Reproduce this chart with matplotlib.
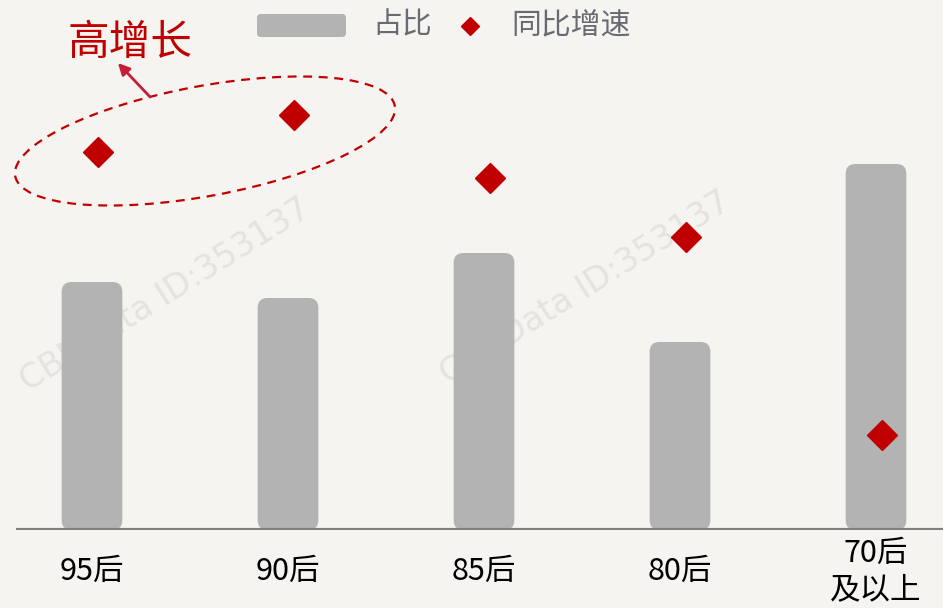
import matplotlib.pyplot as plt
from matplotlib.patches import FancyBboxPatch, Ellipse
import numpy as np

plt.rcParams['font.family'] = ['Noto Sans CJK SC', 'DejaVu Sans']

# data (arbitrary units)
categories = ['95后', '90后', '85后', '80后', '70后\n及以上']
share = [24.8, 23.2, 27.7, 18.8, 36.6]      # 占比
growth = [37.8, 41.5, 35.2, 29.3, 9.5]      # 同比增速

bg_color = '#f5f4f0'
bar_color = '#b3b3b3'
red = '#c00000'

fig = plt.figure(figsize=(9.43, 6.08), dpi=100)
fig.patch.set_facecolor(bg_color)

# background layer for the faint watermark
bg = fig.add_axes([0, 0, 1, 1], zorder=0)
bg.set_xlim(0, 943)
bg.set_ylim(608, 0)
bg.axis('off')
for cx, cy in [(165, 295), (585, 288)]:
    bg.text(cx, cy, 'CBNData ID:353137', rotation=32, fontsize=24, color='#e4e3df',
            ha='center', va='center', family='DejaVu Sans')

# main chart
ax = fig.add_axes([16/943, 78/608, 927/943, 530/608], zorder=1)
ax.patch.set_alpha(0)
x = np.arange(len(categories))
ax.set_xlim(-(92-16)/196, 4 + (943-876)/196)
ax.set_ylim(0, 53)

w = 0.31
for xi, h in zip(x, share):
    p = FancyBboxPatch((xi - w/2, 0), w, h,
                       boxstyle='round,pad=0,rounding_size=0.05',
                       mutation_aspect=19.6, fc=bar_color, ec='none', zorder=2)
    ax.add_patch(p)

ax.plot(x + 0.03, growth, ls='none', marker='D', ms=15, color=red, mec=red, zorder=3)
ax.axhline(0, color='#7f7f7f', lw=3, zorder=4)

for s in ax.spines.values():
    s.set_visible(False)
ax.set_yticks([])
ax.set_xticks(x, categories)
ax.tick_params(axis='x', length=0, pad=30, labelsize=22)
for t in ax.get_xticklabels():
    t.set_va('center')
    t.set_linespacing(1.2)

# overlay: legend + annotation
ov = fig.add_axes([0, 0, 1, 1], zorder=2)
ov.patch.set_alpha(0)
ov.set_xlim(0, 943)
ov.set_ylim(608, 0)
ov.axis('off')

ov.add_patch(FancyBboxPatch((257, 14), 89, 23, boxstyle='round,pad=0,rounding_size=4',
                            fc=bar_color, ec='none'))
ov.text(372, 25, '占比', fontsize=21.5, color='#6a6a72', ha='left', va='center')
ov.plot([470], [26], ls='none', marker='D', ms=9.5, color=red)
ov.text(511, 25, '同比增速', fontsize=21.5, color='#6a6a72', ha='left', va='center')

ov.add_patch(Ellipse((205, 141), 386, 110, angle=-10.5, fill=False, ec=red,
                     lw=1.6, ls=(0, (4, 3))))
ov.annotate('', xy=(116, 61), xytext=(152, 99),
            arrowprops=dict(arrowstyle='-|>', color='#c41e3a', lw=2, mutation_scale=17))
ov.text(130, 43, '高增长', fontsize=30, color=red, ha='center', va='center')

plt.savefig('out.png', dpi=100, facecolor=bg_color)
